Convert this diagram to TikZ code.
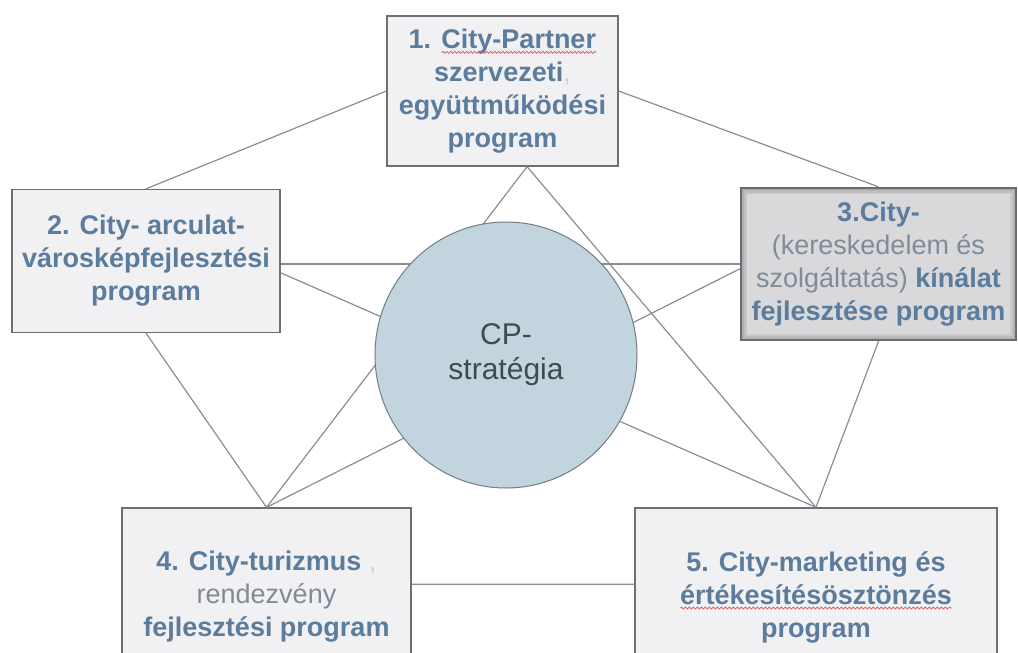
\documentclass[tikz,border=0pt]{standalone}
\usepackage{fontspec}
\setmainfont{Liberation Sans}
\usepackage{xcolor}
\usetikzlibrary{shapes.geometric, decorations.pathmorphing}

\definecolor{cpblue}{HTML}{5B7C9C}
\definecolor{cpgray}{HTML}{7F8C98}
\definecolor{boxfill}{HTML}{F1F1F3}
\definecolor{boxline}{HTML}{6F6F72}
\definecolor{selfill}{HTML}{D9D9DB}
\definecolor{selline}{HTML}{6A6A70}
\definecolor{linkgray}{HTML}{8C8C98}
\definecolor{ovalfill}{HTML}{C2D5DF}
\definecolor{ovalline}{HTML}{6F7E88}
\definecolor{ovaltext}{HTML}{404A52}
\definecolor{typored}{HTML}{D9534F}

% light (non-bold) parts of the box texts
\newcommand{\thin}[1]{{\mdseries\color{cpgray}#1}}
\newcommand{\faint}[1]{{\mdseries\color{gray!35}#1}}
% red wavy spelling mark under a word
\newcommand{\typo}[1]{\tikz[baseline=(tw.base)]{%
  \node[rectangle, draw=none, fill=none, inner sep=0pt, outer sep=0pt,
        minimum width=0pt, minimum height=0pt, text width=, align=left] (tw) {#1};
  \draw[typored, line width=0.7pt, decorate, decoration={snake, amplitude=1pt, segment length=4pt}]
    ([yshift=-4pt]tw.base west) -- ([yshift=-4pt]tw.base east);}}

\begin{document}
\begin{tikzpicture}[x=1pt, y=-1pt,
        prog/.style={rectangle, draw=boxline, line width=1.3pt, fill=boxfill,
                     align=center, inner sep=0pt, text=cpblue,
                     font=\fontsize{27}{33}\selectfont\bfseries},
        hot/.style={prog, fill=selfill, draw=selline, line width=2.4pt,
                    path picture={\foreach \lw in {3,6,9,12} {
                      \draw[selline, opacity=0.12, line width=\lw pt]
                        (path picture bounding box.south west) rectangle
                        (path picture bounding box.north east);}}},
        core/.style={ellipse, draw=ovalline, line width=1pt, fill=ovalfill,
                     align=center, inner sep=0pt, text=ovaltext,
                     font=\fontsize{30}{35}\selectfont},
        link/.style={linkgray, line width=1.2pt}
    ]
    \useasboundingbox (0,0) rectangle (1018,653);
    \clip (0,0) rectangle (1018,653);

    % the five programmes
    \node[prog, minimum width=231pt, minimum height=150pt] (b1) at (502.5,91)
        {1. \typo{City-Partner}\\ szervezeti\faint{,}\\ együttműködési\\ program};
    \node[prog, minimum width=268pt, minimum height=143pt] (b2) at (146,261)
        {2. City- arculat-\\ városképfejlesztési\\ program};
    \node[hot, minimum width=275pt, minimum height=152pt] (b3) at (878.5,264)
        {3.City-\\ \thin{(kereskedelem és}\\ \thin{szolgáltatás)} kínálat\\ fejlesztése program};
    \node[prog, minimum width=289pt, minimum height=178pt] (b4) at (266.5,597)
        {4. City-turizmus \faint{,}\\ \thin{rendezvény}\\ fejlesztési program};
    \node[prog, minimum width=362pt, minimum height=178pt] (b5) at (816,597)
        {5. City-marketing és\\ \typo{értékesítésösztönzés}\\ program};

    % outer ring
    \draw[link] (b1.west) -- (b2.north);
    \draw[link] (b1.east) -- (b3.north);
    \draw[link] (b2.south) -- (b4.north);
    \draw[link] (b3.south) -- (b5.north);
    \draw[link] (b4.5) -- (b5.176);
    % inner star
    \draw[link] (b1.-72) -- (b4.north);
    \draw[link] (b1.-72) -- (b5.north);
    \draw[link] (b2.east |- b3.west) -- (b3.west);
    \draw[link] (b2.-5) -- (b5.north);
    \draw[link] (b3.182) -- (b4.north);

    % strategy in the middle, over the star
    \node[core, minimum width=262pt, minimum height=266pt] (cp) at (506,355)
        {CP-\\ stratégia};
\end{tikzpicture}
\end{document}
